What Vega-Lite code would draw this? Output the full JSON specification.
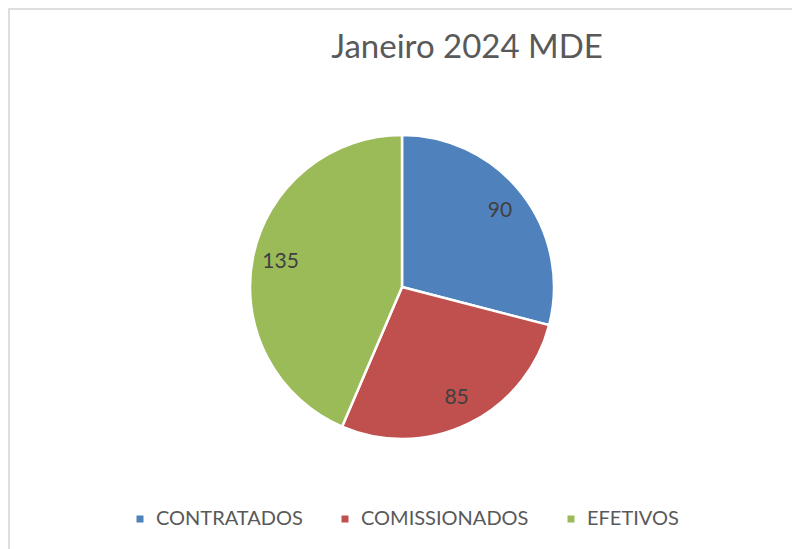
{
  "$schema": "https://vega.github.io/schema/vega-lite/v6.json",
  "width": 786,
  "height": 556,
  "autosize": {"type": "none"},
  "padding": {"left": 9, "top": 9, "right": 0, "bottom": 0},
  "background": "white",
  "view": {"stroke": "#d4d4d4", "strokeWidth": 1.5},
  "title": {
    "text": "Janeiro 2024 MDE",
    "anchor": "middle",
    "frame": "group",
    "dx": 65,
    "offset": -56,
    "fontSize": 33,
    "font": "Lato",
    "fontWeight": "normal",
    "color": "#595959"
  },
  "data": {
    "values": [
      {"categoria": "CONTRATADOS", "valor": 90, "ordem": 1},
      {"categoria": "COMISSIONADOS", "valor": 85, "ordem": 2},
      {"categoria": "EFETIVOS", "valor": 135, "ordem": 3}
    ]
  },
  "encoding": {
    "theta": {"field": "valor", "type": "quantitative", "stack": true},
    "order": {"field": "ordem", "type": "quantitative"}
  },
  "layer": [
    {
      "mark": {"type": "arc", "outerRadius": 152, "stroke": "white", "strokeWidth": 2.5},
      "encoding": {
        "color": {
          "field": "categoria",
          "type": "nominal",
          "sort": ["CONTRATADOS", "COMISSIONADOS", "EFETIVOS"],
          "scale": {"domain": ["CONTRATADOS", "COMISSIONADOS", "EFETIVOS"], "range": ["#4F81BD", "#C0504D", "#9BBB59"]},
          "legend": {
            "title": null,
            "orient": "none",
            "direction": "horizontal",
            "legendX": 121,
            "legendY": 500,
            "symbolType": "square",
            "symbolSize": 49,
            "symbolStrokeWidth": 0,
            "labelFont": "Lato",
            "labelFontSize": 20,
            "labelColor": "#595959",
            "labelOffset": 6,
            "labelLimit": 400,
            "columnPadding": 32
          }
        }
      }
    },
    {
      "mark": {"type": "text", "radius": 124, "fontSize": 21, "font": "Lato", "color": "#404040"},
      "encoding": {"text": {"field": "valor", "type": "quantitative"}}
    }
  ]
}
